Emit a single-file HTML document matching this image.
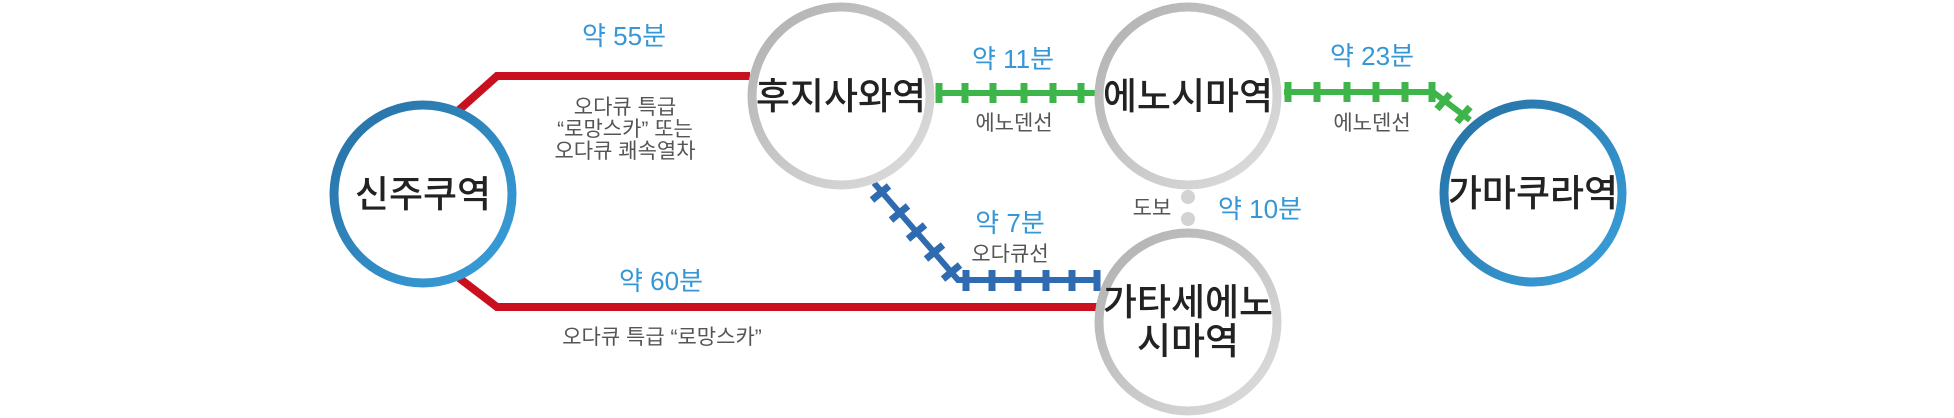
<!DOCTYPE html>
<html><head><meta charset="utf-8"><style>
html,body{margin:0;padding:0;background:#fff;}
svg{display:block}
text{font-family:"Liberation Sans","Noto Sans CJK KR",sans-serif;}
.b{fill:#3597d6;font-size:26px;}
.g{fill:#555;font-size:21px;}
.s{fill:#222;font-size:37px;font-weight:500;}
</style></head><body>
<svg width="1954" height="418" viewBox="0 0 1954 418" xmlns="http://www.w3.org/2000/svg">
<defs>
<linearGradient id="gb" x1="0" y1="0" x2="1" y2="1"><stop offset="0" stop-color="#2670a3"/><stop offset="1" stop-color="#3aa0dc"/></linearGradient>
<linearGradient id="gg" x1="0" y1="0" x2="1" y2="1"><stop offset="0" stop-color="#b0b0b0"/><stop offset="1" stop-color="#dedede"/></linearGradient>
</defs>
<polyline points="459,110 497,76 750,76" fill="none" stroke="#c8101f" stroke-width="8"/>
<polyline points="459,278 497,307 1098,307" fill="none" stroke="#c8101f" stroke-width="8"/>
<line x1="936" y1="93" x2="1096" y2="93" stroke="#3db54a" stroke-width="6"/>
<g stroke="#3db54a" stroke-width="7">
<line x1="939" y1="83" x2="939" y2="103"/><line x1="965" y1="83" x2="965" y2="103"/><line x1="993" y1="83" x2="993" y2="103"/><line x1="1024" y1="83" x2="1024" y2="103"/><line x1="1053" y1="83" x2="1053" y2="103"/><line x1="1081" y1="83" x2="1081" y2="103"/>
</g>
<polyline points="1284,92 1433,92 1470,120" fill="none" stroke="#3db54a" stroke-width="6"/>
<g stroke="#3db54a" stroke-width="7">
<line x1="1288" y1="82" x2="1288" y2="102"/><line x1="1317" y1="82" x2="1317" y2="102"/><line x1="1347" y1="82" x2="1347" y2="102"/><line x1="1376" y1="82" x2="1376" y2="102"/><line x1="1405" y1="82" x2="1405" y2="102"/><line x1="1432" y1="82" x2="1432" y2="102"/>
<line x1="1437" y1="109" x2="1450" y2="94"/><line x1="1457" y1="122" x2="1470" y2="107"/>
</g>
<polyline points="874,183 958,280 1100,280" fill="none" stroke="#2f6bb0" stroke-width="6"/>
<g stroke="#2f6bb0" stroke-width="7">
<line x1="872" y1="200" x2="889" y2="186"/><line x1="891" y1="220" x2="908" y2="206"/><line x1="908" y1="239" x2="925" y2="225"/><line x1="926" y1="259" x2="943" y2="245"/><line x1="943" y1="279" x2="960" y2="265"/>
<line x1="966" y1="270" x2="966" y2="291"/><line x1="992" y1="270" x2="992" y2="291"/><line x1="1018" y1="270" x2="1018" y2="291"/><line x1="1046" y1="270" x2="1046" y2="291"/><line x1="1072" y1="270" x2="1072" y2="291"/><line x1="1097" y1="270" x2="1097" y2="291"/>
</g>
<circle cx="1188" cy="197" r="7" fill="#d3d3d3"/><circle cx="1188" cy="219" r="7" fill="#d3d3d3"/>
<circle cx="423" cy="194" r="89" fill="#fff" stroke="url(#gb)" stroke-width="9"/>
<circle cx="1533" cy="193" r="89" fill="#fff" stroke="url(#gb)" stroke-width="9"/>
<circle cx="841" cy="96" r="89" fill="#fff" stroke="url(#gg)" stroke-width="9"/>
<circle cx="1188" cy="96" r="89" fill="#fff" stroke="url(#gg)" stroke-width="9"/>
<circle cx="1188" cy="322" r="89" fill="#fff" stroke="url(#gg)" stroke-width="9"/>
<text class="s" x="423" y="207" text-anchor="middle">신주쿠역</text>
<text class="s" x="841" y="109" text-anchor="middle">후지사와역</text>
<text class="s" x="1188" y="109" text-anchor="middle">에노시마역</text>
<text class="s" x="1188" y="315" text-anchor="middle">가타세에노</text>
<text class="s" x="1188" y="354" text-anchor="middle">시마역</text>
<text class="s" x="1533" y="206" text-anchor="middle">가마쿠라역</text>
<text class="b" x="624" y="45" text-anchor="middle">약 55분</text>
<text class="g" x="625" y="114" text-anchor="middle">오다큐 특급</text>
<text class="g" x="625" y="136" text-anchor="middle">“로망스카” 또는</text>
<text class="g" x="625" y="158" text-anchor="middle">오다큐 쾌속열차</text>
<text class="b" x="1013" y="68" text-anchor="middle">약 11분</text>
<text class="g" x="1014" y="130" text-anchor="middle">에노덴선</text>
<text class="b" x="1010" y="232" text-anchor="middle">약 7분</text>
<text class="g" x="1010" y="261" text-anchor="middle">오다큐선</text>
<text class="b" x="661" y="290" text-anchor="middle">약 60분</text>
<text class="g" x="662" y="344" text-anchor="middle">오다큐 특급 “로망스카”</text>
<text class="g" x="1152" y="215" text-anchor="middle">도보</text>
<text class="b" x="1260" y="218" text-anchor="middle">약 10분</text>
<text class="b" x="1372" y="65" text-anchor="middle">약 23분</text>
<text class="g" x="1372" y="130" text-anchor="middle">에노덴선</text>
</svg>
</body></html>
